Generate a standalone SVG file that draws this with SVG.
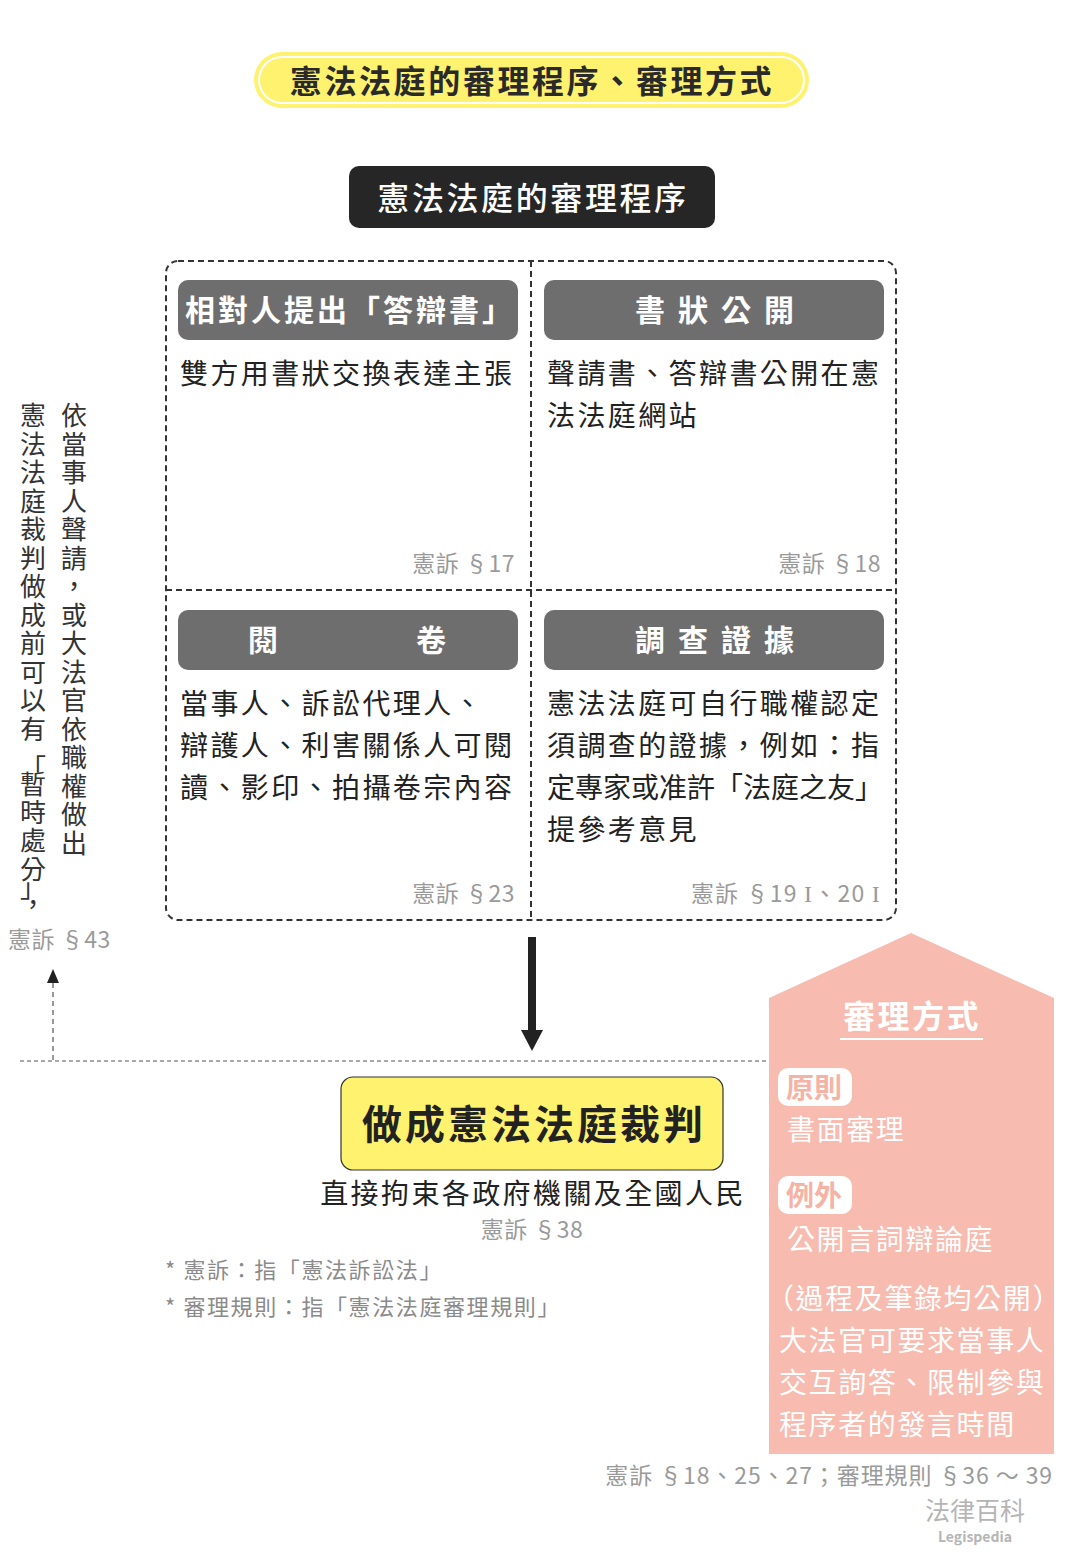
<svg xmlns="http://www.w3.org/2000/svg" width="1065" height="1559" viewBox="0 0 1065 1559">
<defs>
<style>
text{font-family:"Noto Sans CJK TC","Noto Sans CJK SC","Noto Sans",sans-serif;}
.hd{fill:#6f6e6f;}
.hdt{fill:#fff;font-size:30px;font-weight:700;text-anchor:middle;}
.body{fill:#222;font-size:28px;letter-spacing:2.4px;}
.cite{fill:#9a9a9a;font-size:23px;text-anchor:end;letter-spacing:0.5px;}
.rn{font-family:"Liberation Serif","DejaVu Serif",serif;font-size:24px;}
.vt{fill:#333;font-size:26px;text-anchor:middle;}
.pw{fill:#fff;font-size:28px;letter-spacing:1.6px;}
.badge{fill:#fff;}
.badget{fill:#f5b3a6;font-size:28px;font-weight:700;}
.note{fill:#8a8a8a;font-size:22px;letter-spacing:1.6px;}
</style>
</defs>
<rect width="1065" height="1559" fill="#fff"/>

<g id="title">
<rect x="254" y="52" width="555" height="56" rx="28" fill="#fff26e"/>
<rect x="259" y="57" width="545" height="46" rx="23" fill="none" stroke="#fff" stroke-width="2"/>
<text x="532" y="93" text-anchor="middle" font-size="32" font-weight="700" fill="#2a2a2a" letter-spacing="2.6">憲法法庭的審理程序、審理方式</text>
</g>

<g id="section-header">
<rect x="349" y="166" width="366" height="62" rx="10" fill="#262626"/>
<text x="533" y="210" text-anchor="middle" font-size="32" font-weight="500" fill="#fff" letter-spacing="2.6">憲法法庭的審理程序</text>
</g>

<g id="procedure-frame">
<rect x="166" y="261" width="730" height="659" rx="12" fill="none" stroke="#333" stroke-width="2" stroke-dasharray="6 4"/>
<line x1="531" y1="261" x2="531" y2="920" stroke="#333" stroke-width="2" stroke-dasharray="6 4"/>
<line x1="166" y1="590" x2="896" y2="590" stroke="#333" stroke-width="2" stroke-dasharray="6 4"/>
</g>

<g id="node-answer">
<rect class="hd" x="178" y="280" width="340" height="60" rx="10"/>
<text class="hdt" x="350" y="321" letter-spacing="3">相對人提出「答辯書」</text>
<text class="body" x="180" y="384">雙方用書狀交換表達主張</text>
<text class="cite" x="515" y="572">憲訴 §17</text>
</g>

<g id="node-public">
<rect class="hd" x="544" y="280" width="340" height="60" rx="10"/>
<text class="hdt" x="721" y="321" letter-spacing="13">書狀公開</text>
<text class="body" x="547" y="384">聲請書、答辯書公開在憲</text>
<text class="body" x="547" y="426">法法庭網站</text>
<text class="cite" x="881" y="572">憲訴 §18</text>
</g>

<g id="node-read">
<rect class="hd" x="178" y="610" width="340" height="60" rx="10"/>
<text class="hdt" x="263" y="651">閱</text>
<text class="hdt" x="431" y="651">卷</text>
<text class="body" x="180" y="714">當事人、訴訟代理人、</text>
<text class="body" x="180" y="756">辯護人、利害關係人可閱</text>
<text class="body" x="180" y="798">讀、影印、拍攝卷宗內容</text>
<text class="cite" x="515" y="902">憲訴 §23</text>
</g>

<g id="node-evidence">
<rect class="hd" x="544" y="610" width="340" height="60" rx="10"/>
<text class="hdt" x="721" y="651" letter-spacing="13">調查證據</text>
<text class="body" x="547" y="714">憲法法庭可自行職權認定</text>
<text class="body" x="547" y="756">須調查的證據，例如：指</text>
<text class="body" x="547" y="798" style="letter-spacing:0" textLength="336" lengthAdjust="spacing">定專家或准許「法庭之友」</text>
<text class="body" x="547" y="840">提參考意見</text>
<text class="cite" x="881" y="902" style="letter-spacing:1.2px">憲訴 §19 <tspan class="rn">I</tspan>、20 <tspan class="rn">I</tspan></text>
</g>

<g id="node-interim">
<text class="vt" x="74 74 74 74 74 74 74 74 74 74 74 74 74 74 74 74" y="425 453.5 482 510.5 539 567.5 596 624.5 653 681.5 710 738.5 767 795.5 824 852.5">依當事人聲請，或大法官依職權做出</text>
<text class="vt" x="33 33 33 33 33 33 33 33 33 33 33 33 33 33 33 33 33 33 33" y="425 453.5 482 510.5 539 567.5 596 624.5 653 681.5 710 738.5 778 794 822 850 879 897 914">憲法法庭裁判做成前可以有「暫時處分」，</text>
<text x="8" y="948" fill="#9a9a9a" font-size="23" letter-spacing="0.5">憲訴 §43</text>
</g>

<g id="node-judgment">
<rect x="341" y="1077" width="382" height="93" rx="12" fill="#fff26e" stroke="#333" stroke-width="1.2"/>
<text x="534" y="1139" text-anchor="middle" font-size="40" font-weight="700" fill="#222" letter-spacing="3">做成憲法法庭裁判</text>
<text x="533" y="1204" text-anchor="middle" font-size="28" fill="#222" letter-spacing="2.4">直接拘束各政府機關及全國人民</text>
<text x="532" y="1238" text-anchor="middle" fill="#9a9a9a" font-size="23" letter-spacing="0.5">憲訴 §38</text>
</g>

<g id="notes">
<text class="note" x="165" y="1278">* 憲訴：指「憲法訴訟法」</text>
<text class="note" x="165" y="1315">* 審理規則：指「憲法法庭審理規則」</text>
</g>

<g id="node-method">
<polygon points="769,998 911,933 1054,998 1054,1454 769,1454" fill="#f7bbb0"/>
<text x="912" y="1028" text-anchor="middle" font-size="32" font-weight="700" fill="#fff" letter-spacing="2.5">審理方式</text>
<line x1="840" y1="1039" x2="983" y2="1039" stroke="#fff" stroke-width="2"/>
<rect class="badge" x="778" y="1068" width="74" height="38" rx="10"/>
<text class="badget" x="786" y="1098">原則</text>
<text class="pw" x="787" y="1140">書面審理</text>
<rect class="badge" x="778" y="1176" width="74" height="38" rx="10"/>
<text class="badget" x="786" y="1206">例外</text>
<text class="pw" x="787" y="1250">公開言詞辯論庭</text>
<text class="pw" x="766" y="1309">（過程及筆錄均公開）</text>
<text class="pw" x="779" y="1351">大法官可要求當事人</text>
<text class="pw" x="779" y="1393">交互詢答、限制參與</text>
<text class="pw" x="779" y="1435">程序者的發言時間</text>
</g>

<g id="connectors">
<line x1="532" y1="937" x2="532" y2="1032" stroke="#222" stroke-width="8"/>
<polygon points="521,1030 543,1030 532,1051" fill="#222"/>
<line x1="20" y1="1061" x2="769" y2="1061" stroke="#555" stroke-width="1" stroke-dasharray="4 3"/>
<line x1="53" y1="1060" x2="53" y2="982" stroke="#333" stroke-width="1" stroke-dasharray="5 4"/>
<polygon points="47,983 59,983 53,969" fill="#222"/>
</g>

<g id="footer">
<text class="cite" x="1053" y="1484" style="letter-spacing:0.9px">憲訴 §18、25、27；審理規則 §36 ～ 39</text>
<text x="975" y="1520" text-anchor="middle" font-size="25" fill="#b5b5b5">法律百科</text>
<text x="975" y="1542" text-anchor="middle" font-size="14" font-weight="700" fill="#b5b5b5">Legispedia</text>
</g>
</svg>
